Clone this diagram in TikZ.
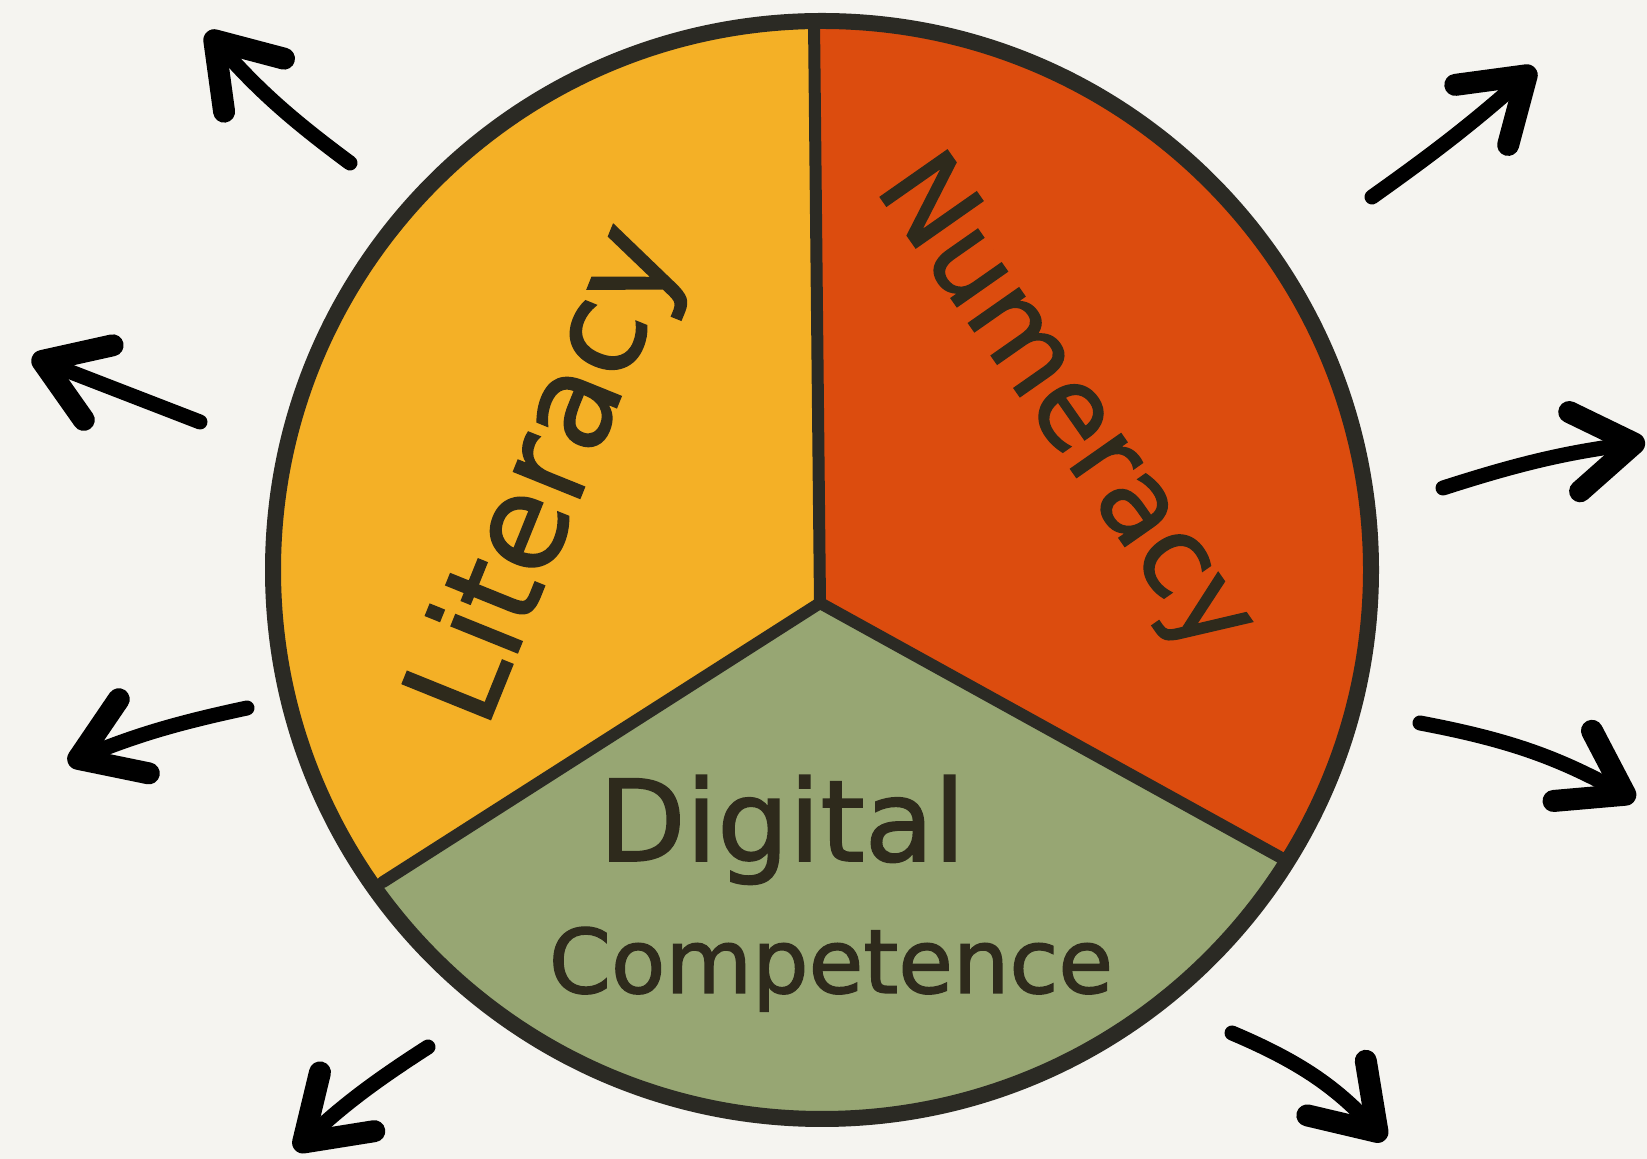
\documentclass[tikz,border=0pt]{standalone}
\usepackage{fontspec}
\setmainfont{DejaVu Sans}
\newfontfamily\handfont{DejaVu Sans}[FakeBold=1.5]
\usetikzlibrary{arrows.meta, calc}
\definecolor{paper}{HTML}{F5F4F0}
\definecolor{litcol}{HTML}{F4B026}
\definecolor{numcol}{HTML}{DC4C0E}
\definecolor{digcol}{HTML}{97A673}
\definecolor{inkcol}{HTML}{2B2A24}
\definecolor{textcol}{HTML}{2E2A1C}

\begin{document}
\begin{tikzpicture}
  [
    x=1pt, y=1pt,
    rim/.style={draw=inkcol,line width=16pt},
    divider/.style={draw=inkcol,line width=12pt,line cap=round},
    pointer/.style={line width=15pt,line cap=round,
      -{Straight Barb[length=60pt,width=80pt,line width=22pt,round]}},
    sectortext/.style={text=textcol,inner sep=0pt}
  ]
  \useasboundingbox[fill=paper] (0,0) rectangle (1647,1159);
  \coordinate (centre) at (822,589);
  \coordinate (hub) at (820,556);
  \coordinate (top) at (814,1138);
  \coordinate (lowleft) at (383,277);
  \coordinate (lowright) at (1287,298);
  \begin{scope}
    \clip (centre) circle [radius=549];
    \fill[litcol] (hub) -- ($(hub)!3!(top)$) -- ++(-3000,0) |- ($(hub)!3!(lowleft)$) -- cycle;
    \fill[numcol] (hub) -- ($(hub)!3!(top)$) -- ++(3000,0) |- ($(hub)!3!(lowright)$) -- cycle;
    \fill[digcol] (hub) -- ($(hub)!3!(lowleft)$) -- ++(0,-3000) -| ($(hub)!3!(lowright)$) -- cycle;
  \end{scope}
  \draw[divider] (hub) -- (top);
  \draw[divider] (hub) -- (lowleft);
  \draw[divider] (hub) -- (lowright);
  \draw[rim] (centre) circle [radius=549];

  \node[sectortext, rotate=68, font=\handfont\fontsize{130}{130}\selectfont] (literacy) at (550,683) {Literacy};
  \node[sectortext, rotate=-55, font=\handfont\fontsize{112}{112}\selectfont] (numeracy) at (1063,752) {Numeracy};
  \node[sectortext, anchor=base, font=\handfont\fontsize{113}{113}\selectfont] (digital) at (782,298) {Digital};
  \node[sectortext, anchor=base, font=\handfont\fontsize{89}{89}\selectfont] (competence) at (831,166) {Competence};

  \coordinate (tail1) at (350,996);  \coordinate (tip1) at (207,1127);
  \coordinate (tail2) at (200,737);  \coordinate (tip2) at (32,802);
  \coordinate (tail3) at (247,451);  \coordinate (tip3) at (68,396);
  \coordinate (tail4) at (428,112);  \coordinate (tip4) at (295,9);
  \coordinate (tail5) at (1372,962); \coordinate (tip5) at (1535,1091);
  \coordinate (tail6) at (1443,671); \coordinate (tip6) at (1645,717);
  \coordinate (tail7) at (1420,436); \coordinate (tip7) at (1635,359);
  \coordinate (tail8) at (1232,126); \coordinate (tip8) at (1385,19);
  \draw[pointer] (tail1) to[bend left=6] (tip1);
  \draw[pointer] (tail2) -- (tip2);
  \draw[pointer] (tail3) to[bend right=5] (tip3);
  \draw[pointer] (tail4) to[bend right=5] (tip4);
  \draw[pointer] (tail5) to[bend right=3] (tip5);
  \draw[pointer] (tail6) to[bend left=5] (tip6);
  \draw[pointer] (tail7) to[bend left=9] (tip7);
  \draw[pointer] (tail8) to[bend left=12] (tip8);
\end{tikzpicture}
\end{document}
